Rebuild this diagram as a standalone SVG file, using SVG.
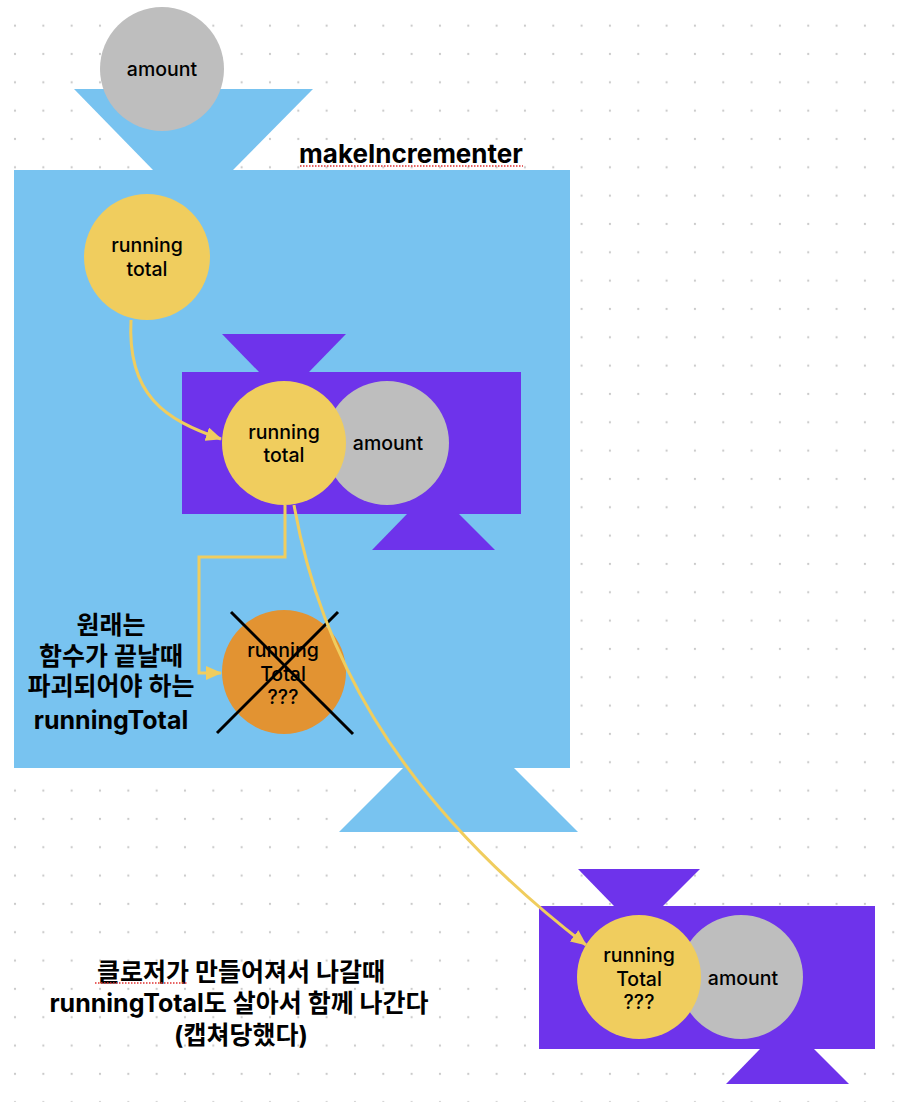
<svg xmlns="http://www.w3.org/2000/svg" width="898" height="1102" viewBox="0 0 898 1102">
  <defs>
    <pattern id="dots" x="15" y="25.7" width="28.33" height="28.33" patternUnits="userSpaceOnUse">
      <circle cx="0" cy="0" r="1.1" fill="#c9c9c9"/>
      <circle cx="28.33" cy="0" r="1.1" fill="#c9c9c9"/>
      <circle cx="0" cy="28.33" r="1.1" fill="#c9c9c9"/>
      <circle cx="28.33" cy="28.33" r="1.1" fill="#c9c9c9"/>
    </pattern>
    <marker id="arr" viewBox="0 0 16 14" refX="15" refY="7" markerWidth="16" markerHeight="14" markerUnits="userSpaceOnUse" orient="auto">
      <path d="M0,0 L16,7 L0,14 Z" fill="#f0cd5e"/>
    </marker>
    <style>
      .blue { fill: #78c3f0; }
      .purple { fill: #6e33eb; }
      .yellow { fill: #f0cd5e; }
      .gray { fill: #bebebe; }
      .orange { fill: #e29332; }
      .lbl { font-family: Inter, "Liberation Sans", "Noto Sans CJK KR", sans-serif; font-size: 19.5px; font-weight: 500; fill: #000; text-anchor: middle; }
      .big { font-family: Inter, "Noto Sans CJK KR", "Liberation Sans", sans-serif; font-size: 25px; font-weight: 700; fill: #000; text-anchor: middle; }
      .title { font-size: 26px; }
      .conn { fill: none; stroke: #f0cd5e; stroke-width: 3; }
      .spell { stroke: #e03030; stroke-width: 1.5; stroke-dasharray: 1.5 1.5; fill: none; }
    </style>
  </defs>
  <rect width="898" height="1102" fill="#fff"/>
  <rect width="898" height="1102" fill="url(#dots)"/>

  <g id="makeIncrementer">
    <polygon class="blue" points="74,89 313,89 233,170 153,170"/>
    <rect class="blue" x="14" y="170" width="556" height="598"/>
    <polygon class="blue" points="403,768 514,768 578,832 339,832"/>
    <text class="big title" x="411" y="163">makeIncrementer</text>
    <line class="spell" x1="300" y1="166" x2="523" y2="166"/>
  </g>

  <g id="amount-top">
    <circle class="gray" cx="162" cy="69" r="62"/>
    <text class="lbl" x="162" y="76">amount</text>
  </g>

  <g id="running-total-1">
    <circle class="yellow" cx="147" cy="257" r="63"/>
    <text class="lbl" x="147" y="252">running</text>
    <text class="lbl" x="147" y="276">total</text>
  </g>

  <g id="closure-1">
    <polygon class="purple" points="222,334 346,334 309,372 259,372"/>
    <rect class="purple" x="182" y="372" width="339" height="142"/>
    <polygon class="purple" points="407,514 459,514 495,550 372,550"/>
    <circle class="gray" cx="387" cy="443" r="62"/>
    <text class="lbl" x="388" y="450">amount</text>
    <circle class="yellow" cx="284" cy="443" r="62"/>
    <text class="lbl" x="284" y="439">running</text>
    <text class="lbl" x="284" y="462">total</text>
  </g>

  <g id="running-total-destroyed">
    <circle class="orange" cx="284" cy="672" r="62"/>
    <text class="lbl" x="283" y="657">running</text>
    <text class="lbl" x="283" y="681">Total</text>
    <text class="lbl" x="283" y="704">???</text>
    <line x1="231" y1="612" x2="353" y2="734" stroke="#000" stroke-width="3"/>
    <line x1="338" y1="612" x2="217" y2="733" stroke="#000" stroke-width="3"/>
  </g>

  <g id="note-original">
    <text class="big" x="111" y="634">원래는</text>
    <text class="big" x="111" y="665">함수가 끝날때</text>
    <text class="big" x="111" y="695">파괴되어야 하는</text>
    <text class="big" x="111" y="729">runningTotal</text>
  </g>

  <g id="closure-2">
    <polygon class="purple" points="578,869 700,869 663,906 614,906"/>
    <rect class="purple" x="539" y="906" width="336" height="143"/>
    <polygon class="purple" points="760,1049 814,1049 849,1084 726,1084"/>
    <circle class="gray" cx="741" cy="977" r="62"/>
    <text class="lbl" x="743" y="985">amount</text>
    <circle class="yellow" cx="639" cy="977" r="62"/>
    <text class="lbl" x="639" y="962">running</text>
    <text class="lbl" x="639" y="986">Total</text>
    <text class="lbl" x="639" y="1009">???</text>
  </g>

  <g id="note-captured">
    <text class="big" x="241" y="981">클로저가 만들어져서 나갈때</text>
    <text class="big" x="239" y="1012">runningTotal도 살아서 함께 나간다</text>
    <text class="big" x="241" y="1044">(캡쳐당했다)</text>
    <line class="spell" x1="95" y1="983" x2="188" y2="983"/>
  </g>

  <g id="connectors">
    <path class="conn" d="M131,320 C127,395 165,420 221,439" marker-end="url(#arr)"/>
    <path class="conn" d="M285,505 L285,557 L199,557 L199,673 L221,673" marker-end="url(#arr)"/>
    <path class="conn" d="M294,505 C318,640 385,790 586,945" marker-end="url(#arr)"/>
  </g>
</svg>
